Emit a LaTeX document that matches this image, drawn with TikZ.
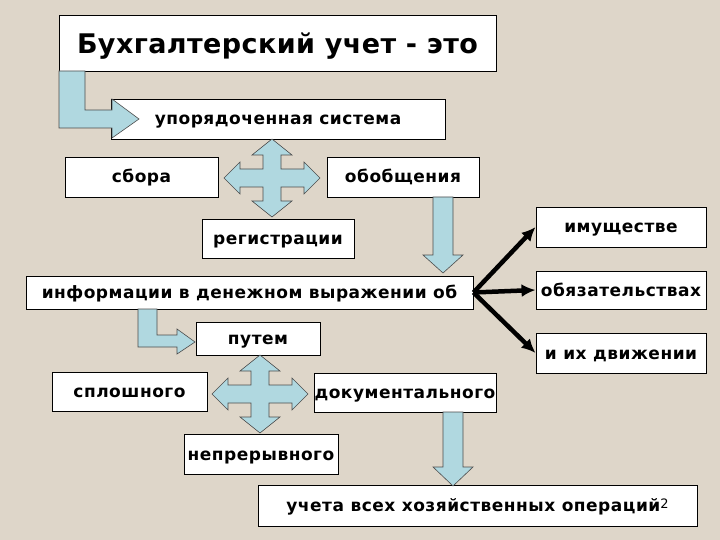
\documentclass[tikz,border=0pt]{standalone}
\usepackage{fontspec}
\setmainfont{DejaVu Sans}
\newfontfamily\boxfont[LetterSpace=3]{DejaVu Sans}
\newfontfamily\titlefont[LetterSpace=1.5]{DejaVu Sans}
\usetikzlibrary{arrows.meta}
\definecolor{bgc}{RGB}{222,214,201}
\definecolor{arrc}{RGB}{176,216,224}
\tikzset{
  box/.style={draw=black, line width=0.9pt, fill=white, inner sep=0pt, text height=13pt, text depth=1pt, font=\boxfont\bfseries\fontsize{17}{19}\selectfont},
  barrow/.style={draw=black!70, line width=0.6pt, fill=arrc},
  conn/.style={draw=black, line width=4.5pt, -{Latex[length=14pt,width=13pt]}}
}
\newcommand\fourarrow[1]{%
  \draw[barrow,shift={#1}] (0,-39) -- (20,-23) -- (9,-23) -- (9,-9) -- (32,-9) -- (32,-16) -- (48,0) -- (32,16) -- (32,9) -- (9,9) -- (9,23) -- (20,23) -- (0,39) -- (-20,23) -- (-9,23) -- (-9,9) -- (-32,9) -- (-32,16) -- (-48,0) -- (-32,-16) -- (-32,-9) -- (-9,-9) -- (-9,-23) -- (-20,-23) -- cycle;}
\begin{document}
\begin{tikzpicture}[x=1pt,y=-1pt]
\fill[bgc] (0,0) rectangle (720,540);
\useasboundingbox (0,0) rectangle (720,540);
% boxes
\node[box, minimum width=437, minimum height=56, text height=24pt, text depth=2pt, font=\titlefont\bfseries\fontsize{27}{30}\selectfont] (title) at (277.5,43) {Бухгалтерский учет - это};
\node[box, minimum width=334, minimum height=40] (sist) at (278,119) {упорядоченная система};
\node[box, minimum width=153, minimum height=40] (sbora) at (141.5,177) {сбора};
\node[box, minimum width=152, minimum height=40] (obob) at (403,177) {обобщения};
\node[box, minimum width=152, minimum height=39] (reg) at (278,238.5) {регистрации};
\node[box, minimum width=447, minimum height=33] (info) at (249.5,292.5) {информации в денежном выражении об};
\node[box, minimum width=170, minimum height=40] (imu) at (621,227) {имуществе};
\node[box, minimum width=170, minimum height=38] (obyaz) at (621,290) {обязательствах};
\node[box, minimum width=170, minimum height=40] (dvizh) at (621,353) {и их движении};
\node[box, minimum width=124, minimum height=33] (put) at (258,338.5) {путем};
\node[box, minimum width=155, minimum height=39] (splosh) at (129.5,391.5) {сплошного};
\node[box, minimum width=182, minimum height=39] (doc) at (405,392.5) {документального};
\node[box, minimum width=154, minimum height=40] (nepr) at (261,454) {непрерывного};
\node[box, minimum width=439, minimum height=41] (ucheta) at (477.5,505.5) {учета всех хозяйственных операций{\mdseries\fontsize{13}{14}\selectfont\raisebox{3pt}{2}}};
% block arrows
\draw[barrow] (59,71) -- (85,71) -- (85,110) -- (112,110) -- (112,99) -- (139,119) -- (112,138) -- (112,128) -- (59,128) -- cycle;
\fourarrow{(272,178)}
\draw[barrow] (433,197) -- (453,197) -- (453,255) -- (463,255) -- (443,273) -- (423,255) -- (433,255) -- cycle;
\draw[barrow] (138,309) -- (157,309) -- (157,335) -- (177,335) -- (177,329) -- (195,342) -- (177,354) -- (177,347) -- (138,347) -- cycle;
\fourarrow{(260,394)}
\draw[barrow] (443,412) -- (463,412) -- (463,467) -- (473,467) -- (453,486) -- (433,467) -- (443,467) -- cycle;
% connectors
\draw[conn] (info.east) -- (imu.west);
\draw[conn] (info.east) -- (obyaz.west);
\draw[conn] (info.east) -- (dvizh.west);
\end{tikzpicture}
\end{document}
